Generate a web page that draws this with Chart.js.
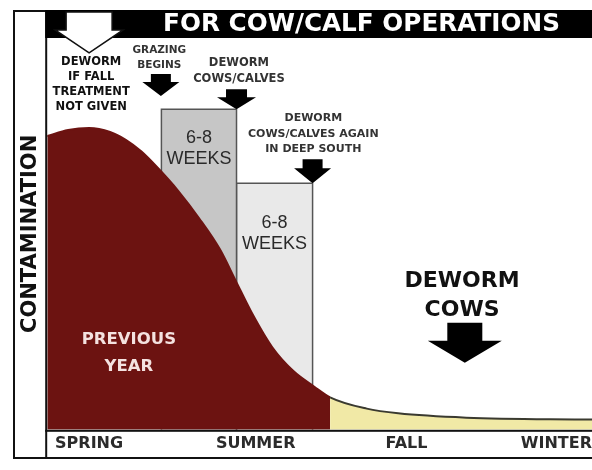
<!DOCTYPE html>
<html><head><meta charset="utf-8">
<script src="https://cdn.jsdelivr.net/npm/chart.js@4/dist/chart.umd.min.js"></script>
<style>html,body{margin:0;padding:0;background:#fff;}canvas{display:block;}</style>
</head><body>
<canvas id="c" width="592" height="470"></canvas>
<script>
// ---- data (x = week of the grazing year, y = pasture contamination level) ----
const weeks = [0, 2, 4, 6, 7.5, 9, 10.5, 12.5, 14.5, 16.5, 18, 19.5, 21.5, 23.5, 25.5, 27, 30.5, 33.5, 40, 52];
const contamination = [75, 76.5, 77, 76, 74, 71, 67, 61, 54, 46, 38, 30, 21, 15, 11, 8.3, 5.4, 4.2, 3.1, 2.6];
const seasons = ['SPRING', 'SUMMER', 'FALL', 'WINTER'];
const seasonWeeks = [4.0, 19.9, 34.3, 48.6];
const fallStartWeek = 27;
const treatmentStart = [10.9, 18.07];
const treatmentEnd = [18.07, 25.33];
const treatmentLevel = [81.8, 62.9];
const treatmentText = ['6-8', 'WEEKS'];

const MAROON = '#6c1311';
const YELLOW = '#f1e9a6';

function fillGradient(chart) {
  const {ctx, chartArea, scales} = chart;
  if (!chartArea || !scales.x) return MAROON;
  const xs = scales.x.getPixelForValue(fallStartWeek);
  const t = Math.min(1, Math.max(0, (xs - chartArea.left) / (chartArea.right - chartArea.left)));
  const g = ctx.createLinearGradient(chartArea.left, 0, chartArea.right, 0);
  g.addColorStop(0, MAROON); g.addColorStop(t, MAROON);
  g.addColorStop(t, YELLOW); g.addColorStop(1, YELLOW);
  return g;
}
function boxPts(i) {
  return [{x: treatmentStart[i], y: 0}, {x: treatmentStart[i], y: treatmentLevel[i]},
          {x: treatmentEnd[i], y: treatmentLevel[i]}, {x: treatmentEnd[i], y: 0}];
}

const FONT = '"DejaVu Sans", sans-serif';
const notes = [
  {lines: ['DEWORM', 'IF FALL', 'TREATMENT', 'NOT GIVEN'], week: 4.2, level: 93.9, size: 11.5, gap: 15.2, color: '#111'},
  {lines: ['GRAZING', 'BEGINS'], week: 10.7, level: 96.9, size: 10.5, gap: 15, color: '#333'},
  {lines: ['DEWORM', 'COWS/CALVES'], week: 18.3, level: 93.5, size: 11.5, gap: 16, color: '#333'},
  {lines: ['DEWORM', 'COWS/CALVES AGAIN', 'IN DEEP SOUTH'], week: 25.4, level: 79.5, size: 11, gap: 15.5, color: '#333'},
  {lines: ['DEWORM', 'COWS'], week: 39.6, level: 37.9, size: 22, gap: 29, color: '#111'},
  {lines: ['PREVIOUS', 'YEAR'], week: 7.8, level: 23.0, size: 16.5, gap: 27, color: '#f4e2e0'}
];
// arrows: tip at (week, level); sizes in px
const arrows = [
  {week: 10.85, level: 85.2, shaft: 10, head: 18.5, headLen: 14, len: 22},
  {week: 18.07, level: 81.8, shaft: 10.5, head: 19.5, headLen: 12, len: 20},
  {week: 25.33, level: 62.9, shaft: 10, head: 18.5, headLen: 15, len: 24},
  {week: 39.86, level: 17.1, shaft: 17.5, head: 37, headLen: 22, len: 40}
];
const whiteArrow = {week: 4.0, level: 96.2, shaft: 23, head: 34, headLen: 23, len: 41};
const boxTextLevel = [74.4, 52.7];

function arrowPath(ctx, cx, tip, a) {
  const top = tip - a.len, base = tip - a.headLen;
  ctx.beginPath();
  ctx.moveTo(cx - a.shaft, top); ctx.lineTo(cx + a.shaft, top);
  ctx.lineTo(cx + a.shaft, base); ctx.lineTo(cx + a.head, base);
  ctx.lineTo(cx, tip); ctx.lineTo(cx - a.head, base);
  ctx.lineTo(cx - a.shaft, base); ctx.closePath();
}

const decor = {
  id: 'decor',
  beforeDraw(chart) {
    const c = chart.ctx;
    c.save(); c.fillStyle = '#fff'; c.fillRect(0, 0, chart.width, chart.height); c.restore();
  },
  afterDatasetsDraw(chart) {
    const c = chart.ctx, x = chart.scales.x, y = chart.scales.y;
    c.save();
    c.textAlign = 'center'; c.textBaseline = 'middle';
    // box labels
    c.fillStyle = '#2a2a2a';
    c.font = '18px "Liberation Sans", Arial, sans-serif';
    for (let i = 0; i < treatmentStart.length; i++) {
      const cx = x.getPixelForValue((treatmentStart[i] + treatmentEnd[i]) / 2);
      const cy = y.getPixelForValue(boxTextLevel[i]);
      c.fillText(treatmentText[0], cx, cy);
      c.fillText(treatmentText[1], cx, cy + 21);
    }
    // notes
    notes.forEach(n => {
      c.fillStyle = n.color;
      c.font = 'bold ' + n.size + 'px ' + FONT;
      const cx = x.getPixelForValue(n.week), cy = y.getPixelForValue(n.level);
      n.lines.forEach((t, k) => c.fillText(t, cx, cy + k * n.gap));
    });
    // black arrows
    c.fillStyle = '#000';
    arrows.forEach(a => {
      arrowPath(c, x.getPixelForValue(a.week), y.getPixelForValue(a.level), a);
      c.fill();
    });
    c.restore();
  },
  afterDraw(chart) {
    const c = chart.ctx, ca = chart.chartArea, x = chart.scales.x, y = chart.scales.y;
    const L = 13, T = 10, B = 457;
    c.save();
    c.fillStyle = '#111';
    c.fillRect(L, T, 2, B + 2 - T);                 // outer left border
    c.fillRect(ca.left - 2, T, 2, B + 2 - T);       // column divider
    c.fillRect(L, T, ca.left - L, 2);               // top line over label column
    c.fillStyle = '#000';
    c.fillRect(ca.left - 2, T, chart.width, ca.top - T); // title bar
    c.fillStyle = '#111';
    c.fillRect(ca.left - 2, ca.bottom, chart.width, 2);  // plot baseline
    c.fillRect(L, B, chart.width, 2);                    // bottom border
    // title
    c.fillStyle = '#fff';
    c.textAlign = 'center'; c.textBaseline = 'middle';
    c.font = 'bold 24.7px ' + FONT;
    c.fillText('FOR COW/CALF OPERATIONS', 361.5, 25);
    // white arrow
    arrowPath(c, x.getPixelForValue(whiteArrow.week), y.getPixelForValue(whiteArrow.level), whiteArrow);
    c.fillStyle = '#fff'; c.fill();
    c.lineWidth = 1.5; c.strokeStyle = '#111'; c.stroke();
    c.restore();
  }
};

new Chart(document.getElementById('c'), {
  type: 'line',
  data: {
    datasets: [
      {
        label: 'Contamination',
        data: weeks.map((w, i) => ({x: w, y: contamination[i]})),
        fill: 'origin',
        backgroundColor: ctx => fillGradient(ctx.chart),
        borderColor: MAROON,
        borderWidth: 2,
        segment: {borderColor: s => (s.p0.parsed.x >= fallStartWeek ? '#3a3a30' : MAROON)},
        pointRadius: 0,
        cubicInterpolationMode: 'monotone'
      },
      {label: 'Treatment 1', data: boxPts(0), fill: 'origin', backgroundColor: '#c6c6c6',
       borderColor: '#555', borderWidth: 1.5, pointRadius: 0, tension: 0},
      {label: 'Treatment 2', data: boxPts(1), fill: 'origin', backgroundColor: '#e9e9e9',
       borderColor: '#555', borderWidth: 1.5, pointRadius: 0, tension: 0}
    ]
  },
  options: {
    responsive: false,
    animation: false,
    layout: {padding: {left: 13, top: 38, right: 0, bottom: 12}},
    plugins: {legend: {display: false}, tooltip: {enabled: false}, title: {display: false}},
    scales: {
      x: {
        type: 'linear', min: 0, max: 52,
        grid: {display: false, drawTicks: false}, border: {display: false},
        afterBuildTicks: s => { s.ticks = seasonWeeks.map(v => ({value: v})); },
        afterFit: s => { s.paddingLeft = 0; s.paddingRight = 0; },
        ticks: {
          autoSkip: false, maxRotation: 0, padding: 4.5, color: '#2b2b2b',
          font: {family: FONT, weight: 'bold', size: 16},
          callback: v => seasons[seasonWeeks.indexOf(v)] ?? ''
        }
      },
      y: {
        type: 'linear', min: 0, max: 100,
        grid: {display: false, drawTicks: false}, border: {display: false},
        ticks: {display: false},
        title: {display: true, text: 'CONTAMINATION', color: '#111',
                font: {family: FONT, weight: 'bold', size: 21}, padding: {top: 5, bottom: 4}}
      }
    }
  },
  plugins: [decor]
});
</script>
</body></html>
